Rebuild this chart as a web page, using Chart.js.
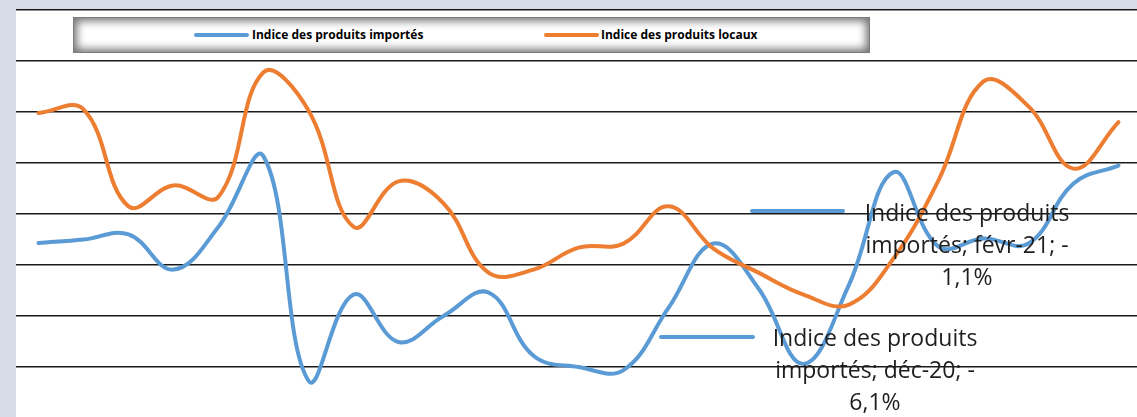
<!DOCTYPE html>
<html>
<head>
<meta charset="utf-8">
<script src="https://cdn.jsdelivr.net/npm/chart.js@4.4.1/dist/chart.umd.min.js"></script>
<style>
  html, body { margin: 0; padding: 0; background: #d5dce6; overflow: hidden; }
  #wrap { position: relative; width: 1137px; height: 417px; overflow: hidden; }
  #wrap canvas { position: absolute; left: 0; top: 0; }
  .legend {
    position: absolute; left: 73px; top: 17px; width: 797px; height: 36px;
    box-sizing: border-box; background: #fff; border: 1px solid #7b7b7b;
    box-shadow: inset 0 0 9px 3px rgba(0,0,0,0.55);
    font-family: "Open Sans", sans-serif; font-weight: bold; font-size: 12px; color: #000;
  }
  .legend .swatch { position: absolute; top: 15px; width: 55px; height: 4px; border-radius: 2px; }
  .legend .txt { position: absolute; top: 0; line-height: 34px; white-space: nowrap; }
  .dlabel {
    position: absolute; width: 260px; text-align: center;
    font-family: "Open Sans", sans-serif; font-size: 23px; line-height: 32px; color: #1e1e1e;
    white-space: nowrap;
  }
  .leader { position: absolute; height: 4px; background: #5b9bd5; border-radius: 2px; }
</style>
</head>
<body>
<div id="wrap">
  <canvas id="myChart" width="1141" height="420"></canvas>
  <div class="legend">
    <div class="swatch" style="left:120px; background:#5b9bd5"></div>
    <div class="txt" style="left:178px">Indice des produits importés</div>
    <div class="swatch" style="left:470px; background:#ed7d31"></div>
    <div class="txt" style="left:527px">Indice des produits locaux</div>
  </div>
  <div class="leader" style="left:750px; top:209px; width:95px"></div>
  <div class="dlabel" style="left:837px; top:196px">Indice des produits<br>importés; févr-21; -<br>1,1%</div>
  <div class="leader" style="left:659px; top:335px; width:96px"></div>
  <div class="dlabel" style="left:745px; top:321px">Indice des produits<br>importés; déc-20; -<br>6,1%</div>
</div>
<script>
const mois = ['févr-19','mars-19','avr-19','mai-19','juin-19','juil-19','août-19','sept-19','oct-19','nov-19','déc-19',
  'janv-20','févr-20','mars-20','avr-20','mai-20','juin-20','juil-20','août-20','sept-20','oct-20','nov-20','déc-20',
  'janv-21','févr-21'];

const produitsImportes = [1.43, 1.50, 1.60, 0.91, 1.75, 3.13, -1.27, 0.42, -0.51, 0.00, 0.46, -0.78, -1.00,
  -1.06, 0.16, 1.42, 0.54, -0.94, 0.59, 2.82, 1.36, 1.52, 1.42, 2.60, 2.95];

const produitsLocaux = [3.98, 4.05, 2.15, 2.56, 2.34, 4.78, 4.03, 1.75, 2.64, 2.21, 0.85, 0.91, 1.34,
  1.42, 2.15, 1.32, 0.85, 0.42, 0.22, 1.13, 2.66, 4.60, 4.11, 2.89, 3.80];

// white plot area on the grey page
const whiteArea = {
  id: 'whiteArea',
  beforeDraw(chart) {
    const ctx = chart.ctx;
    const a = chart.chartArea;
    ctx.save();
    ctx.fillStyle = '#ffffff';
    ctx.fillRect(a.left, a.top, chart.width - a.left, chart.height - a.top);
    ctx.restore();
  }
};

var ctx = document.getElementById('myChart').getContext('2d');
var chart = new Chart(ctx, {
  type: 'line',
  data: {
    labels: mois,
    datasets: [{
      label: 'Indice des produits importés',
      data: produitsImportes,
      borderColor: '#5b9bd5',
      borderWidth: 4,
      pointRadius: 0,
      tension: 0.4,
      borderCapStyle: 'round',
      order: 1
    }, {
      label: 'Indice des produits locaux',
      data: produitsLocaux,
      borderColor: '#ed7d31',
      borderWidth: 4,
      pointRadius: 0,
      tension: 0.4,
      borderCapStyle: 'round',
      order: 0
    }]
  },
  options: {
    responsive: false,
    animation: false,
    layout: { padding: { left: 16, top: 10, right: 0, bottom: 2 } },
    plugins: {
      legend: { display: false },
      tooltip: { enabled: false }
    },
    scales: {
      x: { display: false, offset: true },
      y: {
        min: -2,
        max: 6,
        ticks: { display: false, stepSize: 1 },
        border: { display: false },
        grid: { color: '#1a1a1a', lineWidth: 1.4, drawTicks: false }
      }
    }
  },
  plugins: [whiteArea]
});
</script>
</body>
</html>
